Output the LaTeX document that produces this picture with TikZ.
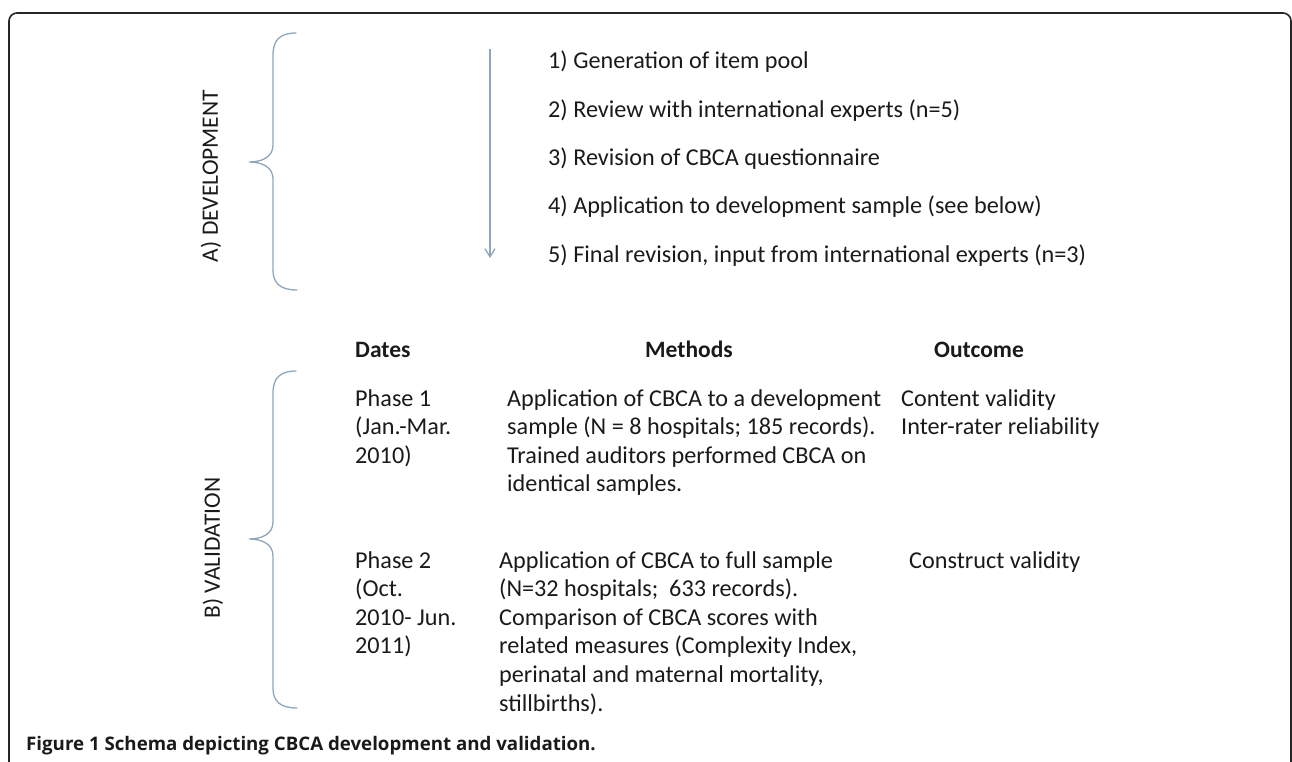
\documentclass[tikz,border=0pt]{standalone}
\usepackage{fontspec}
\setmainfont{Carlito}
\newfontfamily\capfont{Open Sans}
\usetikzlibrary{arrows.meta}
\definecolor{bracecol}{HTML}{8EA6BC}
\definecolor{framecol}{HTML}{262626}
\definecolor{txtcol}{HTML}{1A1A1A}
\newcommand{\linestack}[1]{\begin{tabular}[t]{@{}l@{}}#1\end{tabular}}
\tikzset{
  txt/.style={anchor=base west, inner sep=0pt, text=txtcol,
    font=\fontsize{24.2}{28.6}\selectfont},
  hdr/.style={anchor=base west, inner sep=0pt, text=txtcol,
    font=\fontsize{23.5}{28}\selectfont\bfseries},
  sidelabel/.style={inner sep=0pt, rotate=90, text=txtcol,
    font=\fontsize{23.5}{28}\selectfont},
  bracestyle/.style={draw=bracecol, line width=1.3pt, line cap=round},
  flowarrow/.style={draw=bracecol, line width=1.3pt, -{Straight Barb[length=8pt,width=10pt,line width=1.3pt]}},
  framestyle/.style={draw=framecol, line width=1.6pt, rounded corners=8pt},
  captionstyle/.style={anchor=base west, inner sep=0pt, text=txtcol,
    font=\capfont\bfseries\fontsize{18.7}{22}\selectfont},
}
\begin{document}
\begin{tikzpicture}[x=1pt,y=-1pt]
\useasboundingbox (0,0) rectangle (1292,761);
% frame
\draw[framestyle] (9,775) -- (9,13) -- (1291,13) -- (1291,775);

% A) development
\node[sidelabel] (labA) at (211,176) {A) DEVELOPMENT};
\draw[bracestyle] (296,33) .. controls (280,33) and (273,40) .. (273,55)
  -- (273,145) .. controls (273,157) and (262,162) .. (249,162)
  .. controls (262,162) and (273,167) .. (273,179)
  -- (273,270) .. controls (273,283) and (280,290) .. (297,290);

\coordinate (arrtop) at (490,49);
\coordinate (arrbot) at (490,258);
\draw[flowarrow] (arrtop) -- (arrbot);

\node[txt] (i1) at (548,68) {1) Generation of item pool};
\node[txt] (i2) at (548,117) {2) Review with international experts (n=5)};
\node[txt] (i3) at (548,165) {3) Revision of CBCA questionnaire};
\node[txt] (i4) at (548,213) {4) Application to development sample (see below)};
\node[txt] (i5) at (548,262) {5) Final revision, input from international experts (n=3)};

% headers
\node[hdr] (hDates) at (355,357) {Dates};
\node[hdr] (hMethods) at (645,357) {Methods};
\node[hdr] (hOutcome) at (934,357) {Outcome};

% B) validation
\node[sidelabel] (labB) at (213,548) {B) VALIDATION};
\draw[bracestyle] (296,371) .. controls (280,371) and (273,378) .. (273,393)
  -- (273,522) .. controls (273,534) and (262,539) .. (249,539)
  .. controls (262,539) and (273,544) .. (273,556)
  -- (273,688) .. controls (273,701) and (280,708) .. (297,708);

% phase 1
\node[txt] (d1) at (355,406) {\linestack{Phase 1\\(Jan.-Mar.\\2010)}};
\node[txt] (m1) at (507,406) {\linestack{Application of CBCA to a development\\sample (N = 8 hospitals; 185 records).\\Trained auditors performed CBCA on\\identical samples.}};
\node[txt] (o1) at (901,406) {\linestack{Content validity\\Inter-rater reliability}};

% phase 2
\node[txt] (d2) at (355,568) {\linestack{Phase 2\\(Oct.\\2010- Jun.\\2011)}};
\node[txt] (m2) at (499,568) {\linestack{Application of CBCA to full sample\\(N=32 hospitals;\ \ 633 records).\\Comparison of CBCA scores with\\related measures (Complexity Index,\\perinatal and maternal mortality,\\stillbirths).}};
\node[txt] (o2) at (909,568) {Construct validity};

% caption
\node[captionstyle] (cap) at (26,750) {Figure 1 Schema depicting CBCA development and validation.};
\end{tikzpicture}
\end{document}
